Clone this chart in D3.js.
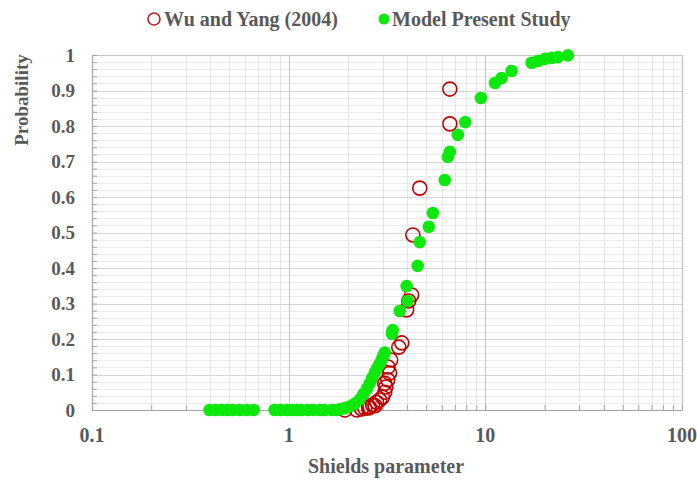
<!DOCTYPE html>
<html>
<head>
<meta charset="utf-8">
<script src="https://cdn.jsdelivr.net/npm/d3@7"></script>
<style>
  html, body { margin: 0; padding: 0; background: #fff; }
  svg { display: block; }
  text { font-family: "Liberation Serif", "Times New Roman", serif; font-weight: bold; fill: #595959; }
</style>
</head>
<body>
<svg id="chart" width="697" height="485"></svg>
<script>
// ---------- data ----------
const seriesNames = ["Wu and Yang (2004)", "Model Present Study"];

const wuYangX = [1.93, 2.22, 2.44, 2.58, 2.67, 2.80, 2.90, 3.00, 3.08, 3.12, 3.08, 3.19, 3.26, 3.20, 3.30,
                 3.63, 3.76, 3.98, 4.08, 4.22, 4.28, 4.64, 6.60, 6.60, 2.35, 2.55, 2.75];
const wuYangY = [0.000, 0.000, 0.005, 0.008, 0.015, 0.022, 0.028, 0.036, 0.050, 0.065, 0.075, 0.085, 0.104, 0.121, 0.141,
                 0.177, 0.189, 0.282, 0.307, 0.324, 0.493, 0.625, 0.806, 0.904, 0.003, 0.006, 0.012];

const modelX = [0.396, 0.425, 0.456, 0.489, 0.519, 0.563, 0.611, 0.664, 0.849, 0.910, 0.977, 1.04, 1.10, 1.16,
                1.25, 1.33, 1.44, 1.52, 1.66, 1.75,
                1.82, 1.93, 2.04, 2.17, 2.30, 2.40, 2.50, 2.58, 2.66, 2.74, 2.82, 2.90, 2.97, 3.03, 3.08,
                3.35, 3.38, 3.67, 3.98, 4.03, 4.53, 4.64, 5.16, 5.41, 6.22, 6.45, 6.60, 7.25, 7.90,
                9.50, 11.2, 12.1, 13.6, 17.2, 18.5, 20.1, 21.8, 23.4, 26.3];
const modelY = [0, 0, 0, 0, 0, 0, 0, 0, 0, 0, 0, 0, 0, 0,
                0, 0, 0, 0, 0, 0,
                0.002, 0.005, 0.010, 0.018, 0.030, 0.045, 0.060, 0.075, 0.090, 0.105, 0.118, 0.130, 0.142, 0.152, 0.162,
                0.215, 0.225, 0.279, 0.349, 0.307, 0.406, 0.473, 0.516, 0.555, 0.648, 0.713, 0.727, 0.775, 0.811,
                0.879, 0.921, 0.935, 0.955, 0.978, 0.983, 0.989, 0.992, 0.994, 0.999];

const xTicks = [0.1, 1, 10, 100];
const xTickLabels = ["0.1", "1", "10", "100"];
const yTicks = [0, 0.1, 0.2, 0.3, 0.4, 0.5, 0.6, 0.7, 0.8, 0.9, 1];
const yTickLabels = ["0", "0.1", "0.2", "0.3", "0.4", "0.5", "0.6", "0.7", "0.8", "0.9", "1"];
const xTitle = "Shields parameter";
const yTitle = "Probability";

// ---------- layout ----------
const svg = d3.select("#chart");
const L = 92, R = 682, T = 55, B = 410;
const x = d3.scaleLog().domain([0.1, 100]).range([L, R]);
const y = d3.scaleLinear().domain([0, 1]).range([B, T]);

// minor values
const xMinor = [];
[0.1, 1, 10].forEach(d => { for (let k = 2; k <= 9; k++) xMinor.push(d * k); });
const yMinor = d3.range(0, 51).map(i => i / 50).filter(v => Math.round(v * 50) % 5 !== 0);

const grid = svg.append("g");
grid.selectAll(".hmin").data(yMinor).join("line")
  .attr("x1", L).attr("x2", R)
  .attr("y1", d => Math.round(y(d)) + 0.5).attr("y2", d => Math.round(y(d)) + 0.5)
  .attr("stroke", "#ebebeb").attr("stroke-width", 1);
grid.selectAll(".vmin").data(xMinor).join("line")
  .attr("y1", T).attr("y2", B)
  .attr("x1", d => Math.round(x(d)) + 0.5).attr("x2", d => Math.round(x(d)) + 0.5)
  .attr("stroke", "#e6e6e6").attr("stroke-width", 1);
grid.selectAll(".hmaj").data(yTicks).join("line")
  .attr("x1", L).attr("x2", R)
  .attr("y1", d => Math.round(y(d)) + 0.5).attr("y2", d => Math.round(y(d)) + 0.5)
  .attr("stroke", "#d4d4d4").attr("stroke-width", 1.2);
grid.selectAll(".vmaj").data(xTicks).join("line")
  .attr("y1", T).attr("y2", B)
  .attr("x1", d => Math.round(x(d)) + 0.5).attr("x2", d => Math.round(x(d)) + 0.5)
  .attr("stroke", "#c8c8c8").attr("stroke-width", 1.2);

// border
svg.append("rect").attr("x", L + 0.5).attr("y", T + 0.5).attr("width", R - L).attr("height", B - T)
  .attr("fill", "none").attr("stroke", "#c6c6c6").attr("stroke-width", 1.2);

// axes
const xAxis = svg.append("g").attr("transform", `translate(0,${B})`)
  .call(d3.axisBottom(x).tickValues(xTicks.concat(xMinor)).tickSize(-5).tickFormat(""));
xAxis.select(".domain").attr("stroke", "#a6a6a6");
xAxis.selectAll(".tick line").attr("stroke", "#a6a6a6");
svg.append("g").selectAll("text").data(xTicks).join("text")
  .attr("x", d => x(d)).attr("y", 442).attr("text-anchor", "middle")
  .style("font-size", "20px").text((d, i) => xTickLabels[i]);

const yAxis = svg.append("g").attr("transform", `translate(${L},0)`)
  .call(d3.axisLeft(y).tickValues(yTicks.concat(yMinor)).tickSize(-5).tickFormat(""));
yAxis.select(".domain").attr("stroke", "#a6a6a6");
yAxis.selectAll(".tick line").attr("stroke", "#a6a6a6");
svg.append("g").selectAll("text").data(yTicks).join("text")
  .attr("x", 75).attr("y", d => y(d) + 6.5).attr("text-anchor", "end")
  .style("font-size", "19px").text((d, i) => yTickLabels[i]);

// titles
svg.append("text").attr("x", 386).attr("y", 473).attr("text-anchor", "middle")
  .style("font-size", "20px").text(xTitle);
svg.append("text").attr("transform", "translate(28,100) rotate(-90)").attr("text-anchor", "middle")
  .style("font-size", "19px").text(yTitle);

// data
const wu = wuYangX.map((d, i) => ({ x: d, y: wuYangY[i] }));
const model = modelX.map((d, i) => ({ x: d, y: modelY[i] }));

svg.append("g").selectAll("circle").data(wu).join("circle")
  .attr("cx", d => x(d.x)).attr("cy", d => y(d.y)).attr("r", 7)
  .attr("fill", "none").attr("stroke", "#c00000").attr("stroke-width", 1.6);

svg.append("g").selectAll("circle").data(model).join("circle")
  .attr("cx", d => x(d.x)).attr("cy", d => y(d.y)).attr("r", 6.3)
  .attr("fill", "#0de80d");

// legend
const lg = svg.append("g");
lg.append("circle").attr("cx", 154).attr("cy", 19).attr("r", 6)
  .attr("fill", "none").attr("stroke", "#b22222").attr("stroke-width", 1.6);
lg.append("text").attr("x", 164).attr("y", 26).style("font-size", "20px").text(seriesNames[0]);
lg.append("circle").attr("cx", 384).attr("cy", 19).attr("r", 5.5).attr("fill", "#0de80d");
lg.append("text").attr("x", 392).attr("y", 26).style("font-size", "20px").text(seriesNames[1]);
</script>
</body>
</html>
